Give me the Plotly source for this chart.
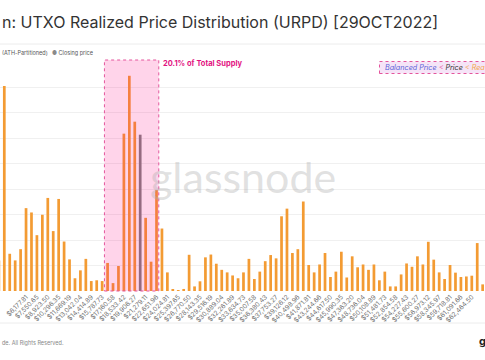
import plotly.graph_objects as go

# ---------------- data ----------------
bin_width = 686.423                      # USD per URPD bucket (ATH-partitioned)
bin_index = list(range(4, 94))           # visible buckets
supply = [1.20, 8.04, 1.46, 1.20, 1.64, 3.25, 3.08, 2.19, 2.99, 3.65,
          2.35, 3.61, 1.94, 1.24, 0.50, 0.81, 1.26, 0.39, 0.42, 0.39,
          1.10, 0.31, 0.98, 6.17, 8.44, 6.64, 6.13, 2.87, 1.15, 3.96,
          2.45, 0.73, 0.07, 0.03, 0.08, 1.42, 0.18, 0.38, 1.32, 1.43,
          1.07, 0.83, 0.73, 0.61, 0.50, 0.73, 1.26, 0.47, 0.76, 1.17,
          1.41, 1.28, 2.93, 3.23, 1.49, 1.64, 3.51, 1.02, 0.73, 1.04,
          1.49, 0.55, 0.76, 1.54, 0.53, 1.36, 0.93, 1.04, 0.83, 1.04,
          0.42, 0.76, 0.18, 0.18, 0.65, 1.08, 0.95, 1.36, 1.04, 1.93,
          1.23, 0.73, 0.47, 1.02, 0.72, 0.55, 0.57, 0.60, 1.88, 0.26]
closing_bin = 30
tick_bins = list(range(5, 96, 2))
tick_labels = ["$3,432.12", "$4,804.96", "$6,177.81", "$7,550.65", "$8,923.50",
               "$10,296.35", "$11,669.19", "$13,042.04", "$14,414.89", "$15,787.73",
               "$17,160.58", "$18,533.42", "$19,906.27", "$21,279.11", "$22,651.96",
               "$24,024.81", "$25,397.65", "$26,770.50", "$28,143.35", "$29,516.19",
               "$30,889.04", "$32,261.89", "$33,634.73", "$35,007.58", "$36,380.43",
               "$37,753.27", "$39,126.12", "$40,498.96", "$41,871.81", "$43,244.66",
               "$44,617.50", "$45,990.35", "$47,363.20", "$48,736.04", "$50,108.89",
               "$51,481.73", "$52,854.58", "$54,227.43", "$55,600.27", "$56,973.12",
               "$58,345.97", "$59,718.81", "$61,091.66", "$62,464.50", "$63,837.35",
               "$65,210.20"]
band_bins = (23.42, 33.42)
band_label = "20.1% of Total Supply"

# ---------------- figure ----------------
W, H = 485, 360
T, B = 62, 69
PH = H - T - B


def px_x(p):
    return p / W


def px_y(p):
    return (H - B - p) / PH


ORANGE = "#f39b33"
GREY = "#808080"
FONT = "Inter, Roboto, 'Open Sans', sans-serif"

x_vals = [k * bin_width for k in bin_index]
colors = [GREY if k == closing_bin else ORANGE for k in bin_index]

fig = go.Figure()
fig.add_trace(go.Bar(x=x_vals, y=supply, marker=dict(color=colors, line=dict(width=0)),
                     width=bin_width * 0.5, showlegend=False))

fig.update_layout(
    width=W, height=H,
    margin=dict(l=0, r=0, t=T, b=B, pad=0),
    paper_bgcolor="white", plot_bgcolor="white",
    font=dict(family=FONT, color="#333"),
    showlegend=False,
    xaxis=dict(range=[4.209 * bin_width, 93.43 * bin_width],
               tickvals=[k * bin_width for k in tick_bins], ticktext=tick_labels,
               tickangle=-45, tickfont=dict(size=6.5, color="#6f6f6f"),
               showgrid=False, zeroline=False, showline=False, ticks="",
               automargin=False),
    yaxis=dict(range=[0, PH / 25.5], dtick=1, showticklabels=False,
               gridcolor="#f0f0f0", gridwidth=1, zeroline=False, showline=False,
               automargin=False),
)

shapes = [
    dict(type="line", xref="paper", yref="paper", x0=0, x1=1, y0=px_y(44), y1=px_y(44),
         line=dict(color="#ececec", width=1)),
    dict(type="line", xref="paper", yref="paper", x0=0, x1=1, y0=px_y(323), y1=px_y(323),
         line=dict(color="#ececec", width=1)),
    dict(type="rect", xref="x", yref="paper",
         x0=band_bins[0] * bin_width, x1=band_bins[1] * bin_width,
         y0=0, y1=px_y(60), layer="above",
         fillcolor="rgba(255,0,128,0.17)",
         line=dict(color="#e4559c", width=1, dash="dot")),
    dict(type="rect", xref="paper", yref="paper",
         x0=px_x(379.5), x1=px_x(495), y0=px_y(73.5), y1=px_y(61.5), layer="above",
         fillcolor="rgba(236,205,240,0.55)",
         line=dict(color="#e4559c", width=1, dash="dot")),
]
fig.update_layout(shapes=shapes)

ann = [
    dict(text="n: UTXO Realized Price Distribution (URPD) [29OCT2022]",
         x=px_x(0), y=px_y(21.5), xanchor="left", yanchor="middle",
         font=dict(size=16, color="#333333")),
    dict(text="(ATH-Partitioned)", x=px_x(0), y=px_y(52.5), xanchor="left", yanchor="middle",
         font=dict(size=5.5, color="#555555")),
    dict(text="<span style='color:#8a8a8a'>●</span> Closing price", x=px_x(50), y=px_y(52.5),
         xanchor="left", yanchor="middle", font=dict(size=5.5, color="#555555")),
    dict(text="<b>" + band_label + "</b>", x=px_x(160.5), y=px_y(63.5), xanchor="left",
         yanchor="middle", font=dict(size=7.5, color="#e2127f")),
    dict(text="<i><span style='color:#5a63d8'>Balanced Price</span> "
              "<span style='color:#e4559c'>&lt;</span> "
              "<span style='color:#333333'>Price</span> "
              "<span style='color:#f3a64b'>&lt; Rea</span></i>",
         x=px_x(382.5), y=px_y(67.5), xanchor="left", yanchor="middle",
         font=dict(size=7.2)),
    dict(text="glassnode", x=px_x(243), y=px_y(176), xanchor="center", yanchor="middle",
         font=dict(size=43, color="rgba(175,175,175,0.38)", family="Lato, sans-serif")),
    dict(text="de. All Rights Reserved.", x=px_x(0), y=px_y(342), xanchor="left",
         yanchor="middle", font=dict(size=5.5, color="#888888")),
    dict(text="<b>g</b>", x=px_x(476.5), y=px_y(341), xanchor="left",
         yanchor="middle", font=dict(size=11, color="#222222")),
]
for a in ann:
    a.setdefault("xref", "paper")
    a.setdefault("yref", "paper")
    a["showarrow"] = False
fig.update_layout(annotations=ann)

fig.write_html("out.html", config={"displayModeBar": False},
               post_script="document.body.style.margin='0';document.body.style.overflow='hidden';")
